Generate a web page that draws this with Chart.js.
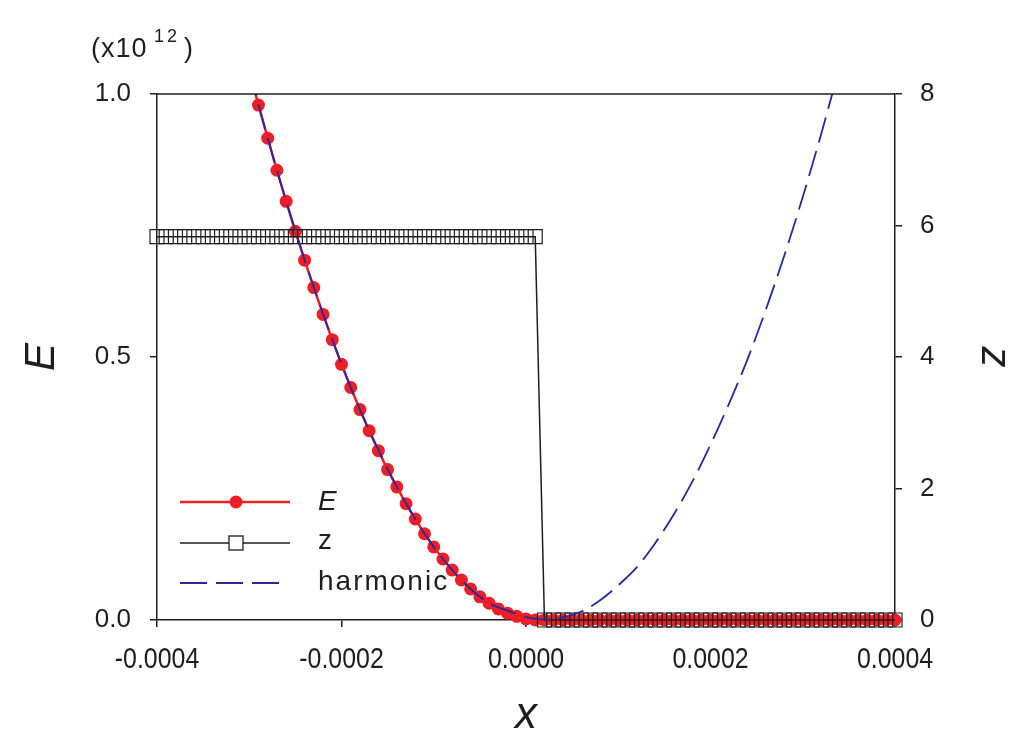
<!DOCTYPE html>
<html>
<head>
<meta charset="utf-8">
<script src="https://cdn.jsdelivr.net/npm/chart.js@4/dist/chart.umd.min.js"></script>
<style>
  html, body { margin: 0; padding: 0; background: #fff; }
  #chart { display: block; }
</style>
</head>
<body>
<canvas id="chart" width="1032" height="746"></canvas>
<script>
// x positions are given in units of 1e-5
var X_UNIT = 1e-5;

var eX = [-30, -29, -28, -27, -26, -25, -24, -23, -22, -21, -20, -19, -18, -17, -16, -15, -14, -13, -12, -11,
  -10, -9, -8, -7, -6, -5, -4, -3, -2, -1, 0, 1, 2, 3, 4, 5, 6, 7, 8, 9,
  10, 11, 12, 13, 14, 15, 16, 17, 18, 19, 20, 21, 22, 23, 24, 25, 26, 27, 28, 29,
  30, 31, 32, 33, 34, 35, 36, 37, 38, 39, 40];
var eValues = [1.044, 0.979, 0.916, 0.855, 0.796, 0.739, 0.684, 0.632, 0.581, 0.533, 0.486, 0.442, 0.400, 0.360, 0.322, 0.286, 0.253, 0.221, 0.192, 0.164,
  0.139, 0.116, 0.095, 0.076, 0.059, 0.044, 0.032, 0.021, 0.013, 0.007, 0.002, 0, 0, 0, 0, 0, 0, 0, 0, 0,
  0, 0, 0, 0, 0, 0, 0, 0, 0, 0, 0, 0, 0, 0, 0, 0, 0, 0, 0, 0,
  0, 0, 0, 0, 0, 0, 0, 0, 0, 0, 0];

var zX = [-40, -39, -38, -37, -36, -35, -34, -33, -32, -31, -30, -29, -28, -27, -26, -25, -24, -23, -22, -21,
  -20, -19, -18, -17, -16, -15, -14, -13, -12, -11, -10, -9, -8, -7, -6, -5, -4, -3, -2, -1,
  0, 1, 2, 3, 4, 5, 6, 7, 8, 9, 10, 11, 12, 13, 14, 15, 16, 17, 18, 19,
  20, 21, 22, 23, 24, 25, 26, 27, 28, 29, 30, 31, 32, 33, 34, 35, 36, 37, 38, 39, 40];
var zValues = [5.83, 5.83, 5.83, 5.83, 5.83, 5.83, 5.83, 5.83, 5.83, 5.83, 5.83, 5.83, 5.83, 5.83, 5.83, 5.83, 5.83, 5.83, 5.83, 5.83,
  5.83, 5.83, 5.83, 5.83, 5.83, 5.83, 5.83, 5.83, 5.83, 5.83, 5.83, 5.83, 5.83, 5.83, 5.83, 5.83, 5.83, 5.83, 5.83, 5.83,
  5.83, 5.83, 0, 0, 0, 0, 0, 0, 0, 0, 0, 0, 0, 0, 0, 0, 0, 0, 0, 0,
  0, 0, 0, 0, 0, 0, 0, 0, 0, 0, 0, 0, 0, 0, 0, 0, 0, 0, 0, 0, 0];

var hX = [-30, -28, -26, -24, -22, -20, -18, -16, -14, -12, -10, -8, -6, -4, -2, 0,
  2, 4, 6, 8, 10, 12, 14, 16, 18, 20, 22, 24, 26, 28, 30, 32, 34];
var hValues = [1.045, 0.916, 0.796, 0.685, 0.582, 0.487, 0.400, 0.323, 0.253, 0.192, 0.139, 0.095, 0.059, 0.032, 0.018, 0.006,
  0.001, 0.005, 0.016, 0.037, 0.066, 0.100, 0.146, 0.200, 0.262, 0.333, 0.411, 0.495, 0.590, 0.693, 0.804, 0.924, 1.052];

var xTicks = [-0.0004, -0.0002, 0, 0.0002, 0.0004];
var xTickLabels = ['-0.0004', '-0.0002', '0.0000', '0.0002', '0.0004'];
var eTicks = [0, 0.5, 1.0];
var eTickLabels = ['0.0', '0.5', '1.0'];
var zTicks = [0, 2, 4, 6, 8];
var zTickLabels = ['0', '2', '4', '6', '8'];

var FONT = "'Liberation Sans', Arial, Helvetica, sans-serif";
var RED = 'rgb(236,30,38)';
var NAVY = 'rgb(40,40,160)';
var INK = '#1e1e1e';

function pts(xs, ys) {
  var out = [];
  for (var i = 0; i < xs.length; i++) out.push({x: xs[i] * X_UNIT, y: ys[i]});
  return out;
}

function axisGrid() {
  return {drawOnChartArea: false, drawTicks: true, tickLength: 7, color: INK, lineWidth: 1.5};
}

var extras = {
  id: 'extras',
  afterDraw: function(chart) {
    var ctx = chart.ctx, a = chart.chartArea;
    ctx.save();
    // top frame line
    ctx.strokeStyle = INK;
    ctx.lineWidth = 1.5;
    ctx.beginPath();
    ctx.moveTo(a.left, a.top);
    ctx.lineTo(a.right, a.top);
    ctx.stroke();

    // x tick labels, in a narrow face like the original
    var xs = chart.scales.x;
    ctx.fillStyle = INK;
    ctx.font = '30px ' + FONT;
    ctx.textAlign = 'center';
    ctx.textBaseline = 'middle';
    xs.ticks.forEach(function(t, i) {
      ctx.save();
      ctx.translate(xs.getPixelForValue(t.value), 660);
      ctx.scale(0.83, 1);
      ctx.fillText(xTickLabels[i], 0, 0);
      ctx.restore();
    });
    ctx.textAlign = 'left';

    // exponent label
    ctx.textBaseline = 'alphabetic';
    ctx.font = '27px ' + FONT;
    ctx.letterSpacing = '1px';
    ctx.fillText('(x10', 91, 57);
    ctx.font = '18px ' + FONT;
    ctx.letterSpacing = '3px';
    ctx.fillText('12', 154, 42);
    ctx.font = '27px ' + FONT;
    ctx.letterSpacing = '0px';
    ctx.fillText(')', 184, 57);

    // legend
    var lx0 = 180, lx1 = 290, mx = 236, tx = 318;
    ctx.textBaseline = 'middle';

    ctx.strokeStyle = RED;
    ctx.lineWidth = 2.5;
    ctx.beginPath(); ctx.moveTo(lx0, 502); ctx.lineTo(lx1, 502); ctx.stroke();
    ctx.fillStyle = RED;
    ctx.beginPath(); ctx.arc(mx, 502, 6.5, 0, Math.PI * 2); ctx.fill();

    ctx.strokeStyle = INK;
    ctx.lineWidth = 1.5;
    ctx.beginPath(); ctx.moveTo(lx0, 543); ctx.lineTo(lx1, 543); ctx.stroke();
    ctx.fillStyle = '#fff';
    ctx.fillRect(mx - 7, 536, 14, 14);
    ctx.lineWidth = 1.3;
    ctx.strokeRect(mx - 7, 536, 14, 14);

    ctx.strokeStyle = NAVY;
    ctx.lineWidth = 1.8;
    ctx.setLineDash([27, 9]);
    ctx.beginPath(); ctx.moveTo(lx0, 583); ctx.lineTo(280, 583); ctx.stroke();
    ctx.setLineDash([]);

    ctx.fillStyle = INK;
    ctx.letterSpacing = '2px';
    ctx.font = 'italic 28px ' + FONT;
    ctx.fillText('E', tx, 502);
    ctx.font = '28px ' + FONT;
    ctx.fillText('z', tx, 541);
    ctx.fillText('harmonic', tx, 582);
    ctx.letterSpacing = '0px';
    ctx.restore();
  }
};

var chart = new Chart(document.getElementById('chart'), {
  type: 'line',
  data: {
    datasets: [{
      label: 'harmonic',
      data: pts(hX, hValues),
      yAxisID: 'y',
      order: 0,
      borderColor: NAVY,
      borderWidth: 1.8,
      borderDash: [26, 9],
      pointRadius: 0,
      cubicInterpolationMode: 'monotone',
      fill: false,
      clip: {left: 10, top: 0, right: 10, bottom: 10}
    }, {
      label: 'z',
      data: pts(zX, zValues),
      yAxisID: 'z',
      order: 1,
      borderColor: INK,
      borderWidth: 1.5,
      pointStyle: 'rect',
      pointRadius: 9.9,
      pointBackgroundColor: 'rgba(0,0,0,0)',
      pointBorderColor: INK,
      pointBorderWidth: 1.2,
      tension: 0,
      fill: false,
      clip: 12
    }, {
      label: 'E',
      data: pts(eX, eValues),
      yAxisID: 'y',
      order: 2,
      borderColor: RED,
      borderWidth: 2.5,
      pointStyle: 'circle',
      pointRadius: 6.5,
      pointBackgroundColor: RED,
      pointBorderWidth: 0,
      tension: 0,
      fill: false,
      clip: {left: 10, top: 0, right: 10, bottom: 10}
    }]
  },
  options: {
    responsive: false,
    animation: false,
    devicePixelRatio: 1,
    layout: {padding: {top: 94, left: 0, right: 0, bottom: 0}},
    plugins: {legend: {display: false}, tooltip: {enabled: false}},
    scales: {
      x: {
        type: 'linear',
        position: 'bottom',
        min: -0.0004,
        max: 0.0004,
        afterBuildTicks: function(s) { s.ticks = xTicks.map(function(v) { return {value: v}; }); },
        afterFit: function(s) { s.height = 126; },
        ticks: {display: false},
        grid: axisGrid(),
        border: {color: INK, width: 1.5},
        title: {display: true, text: 'x', color: INK,
          font: {family: FONT, size: 44, style: 'italic'}, padding: {top: 0, bottom: 4}}
      },
      y: {
        type: 'linear',
        position: 'left',
        min: 0,
        max: 1,
        afterBuildTicks: function(s) { s.ticks = eTicks.map(function(v) { return {value: v}; }); },
        afterFit: function(s) { s.width = 157; },
        ticks: {
          callback: function(v, i) { return eTickLabels[i]; },
          font: {family: FONT, size: 26},
          color: INK,
          padding: 19
        },
        grid: axisGrid(),
        border: {color: INK, width: 1.5},
        title: {display: true, text: 'E', color: INK,
          font: {family: FONT, size: 42, style: 'italic'}, padding: {top: 17, bottom: 0}}
      },
      z: {
        type: 'linear',
        position: 'right',
        min: 0,
        max: 8,
        afterBuildTicks: function(s) { s.ticks = zTicks.map(function(v) { return {value: v}; }); },
        afterFit: function(s) { s.width = 137; },
        ticks: {
          callback: function(v, i) { return zTickLabels[i]; },
          font: {family: FONT, size: 26},
          color: INK,
          padding: 18
        },
        grid: axisGrid(),
        border: {color: INK, width: 1.5},
        title: {display: true, text: 'z', color: INK,
          font: {family: FONT, size: 42, style: 'italic'}, padding: {top: 13, bottom: 0}}
      }
    }
  },
  plugins: [extras]
});
</script>
</body>
</html>
